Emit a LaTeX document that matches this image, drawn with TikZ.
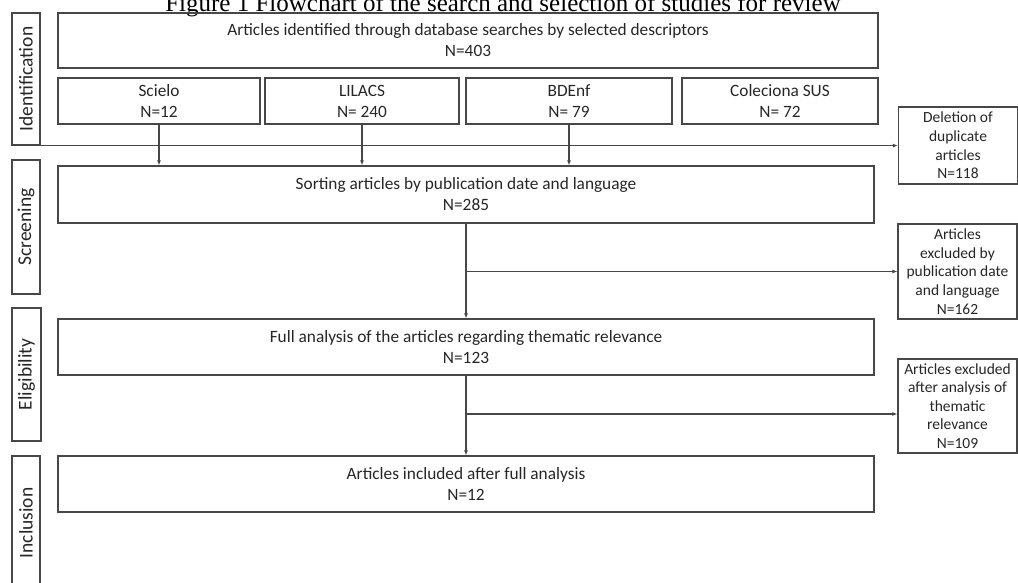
\documentclass[tikz,border=0pt]{standalone}
\usepackage{fontspec}
\usepackage{graphicx}
\setmainfont{Carlito}
\newfontfamily\titlefont{Liberation Serif}
\usetikzlibrary{arrows.meta}
\definecolor{boxline}{HTML}{474747}
\definecolor{boxtext}{HTML}{262626}
\begin{document}
\begin{tikzpicture}[
    x=1pt, y=-1pt,
    line width=1.2pt,
    >={Latex[length=5pt,width=4pt]},
    flow/.style={rectangle, draw=boxline, line width=1.2pt, inner sep=0pt, align=center, text=boxtext,
      font=\fontsize{17.3}{21}\selectfont},
    side/.style={flow, font=\fontsize{15.5}{18.6}\selectfont, minimum width=119},
    phase/.style={flow, font=\fontsize{19.5}{22}\selectfont, minimum width=28, minimum height=133}
  ]
    \useasboundingbox (0,0) rectangle (1018,583);

    \node[font=\titlefont\fontsize{25}{28}\selectfont, text=black, anchor=base] (title) at (503,12) {Figure 1 Flowchart of the search and selection of studies for review};

    \node[phase, minimum height=132] (ident) at (26,79) {\rotatebox{90}{Identification}};
    \node[phase, minimum height=134] (screen) at (26,227) {\rotatebox{90}{Screening}};
    \node[phase, minimum width=29] (elig) at (26.5,374.5) {\rotatebox{90}{Eligibility}};
    \node[phase, minimum height=134] (inclu) at (26,523) {\rotatebox{90}{Inclusion}};

    \node[flow, minimum width=820, minimum height=55] (search) at (468,40.5) {Articles identified through database searches by selected descriptors\\N=403};
    \node[flow, minimum width=202, minimum height=46] (scielo) at (159,101) {Scielo\\N=12};
    \node[flow, minimum width=194, minimum height=46] (lilacs) at (362,101) {LILACS\\N= 240};
    \node[flow, minimum width=206, minimum height=46] (bdenf) at (569,101) {BDEnf\\N= 79};
    \node[flow, minimum width=196, minimum height=46] (sus) at (780,101) {Coleciona SUS\\N= 72};

    \node[flow, minimum width=816, minimum height=57] (sort) at (466,194.5) {Sorting articles by publication date and language\\N=285};
    \node[flow, minimum width=816, minimum height=56] (full) at (466,347) {Full analysis of the articles regarding thematic relevance\\N=123};
    \node[flow, minimum width=816, minimum height=56] (incl) at (466,484) {Articles included after full analysis\\N=12};

    \node[side, minimum height=77] (dup) at (958,145.5) {Deletion of\\duplicate\\articles\\N=118};
    \node[side, minimum height=95] (exdate) at (957.5,271.5) {Articles\\excluded by\\publication date\\and language\\N=162};
    \node[side, minimum height=94] (exrel) at (957.5,406) {Articles excluded\\after analysis of\\thematic\\relevance\\N=109};

    \draw[->, boxline] (ident.south east) -- (ident.south east -| dup.west);
    \draw[->, boxline] (scielo.south) -- (scielo.south |- sort.north);
    \draw[->, boxline] (lilacs.south) -- (lilacs.south |- sort.north);
    \draw[->, boxline] (bdenf.south) -- (bdenf.south |- sort.north);

    \draw[->, boxline] (sort.south) -- (full.north);
    \draw[->, boxline] (sort.south |- exdate.west) -- (exdate.west);
    \coordinate (split) at (466,414);
    \draw[->, boxline] (full.south) -- (incl.north);
    \draw[->, boxline] (split) -- (split -| exrel.west);
  \end{tikzpicture}
\end{document}
